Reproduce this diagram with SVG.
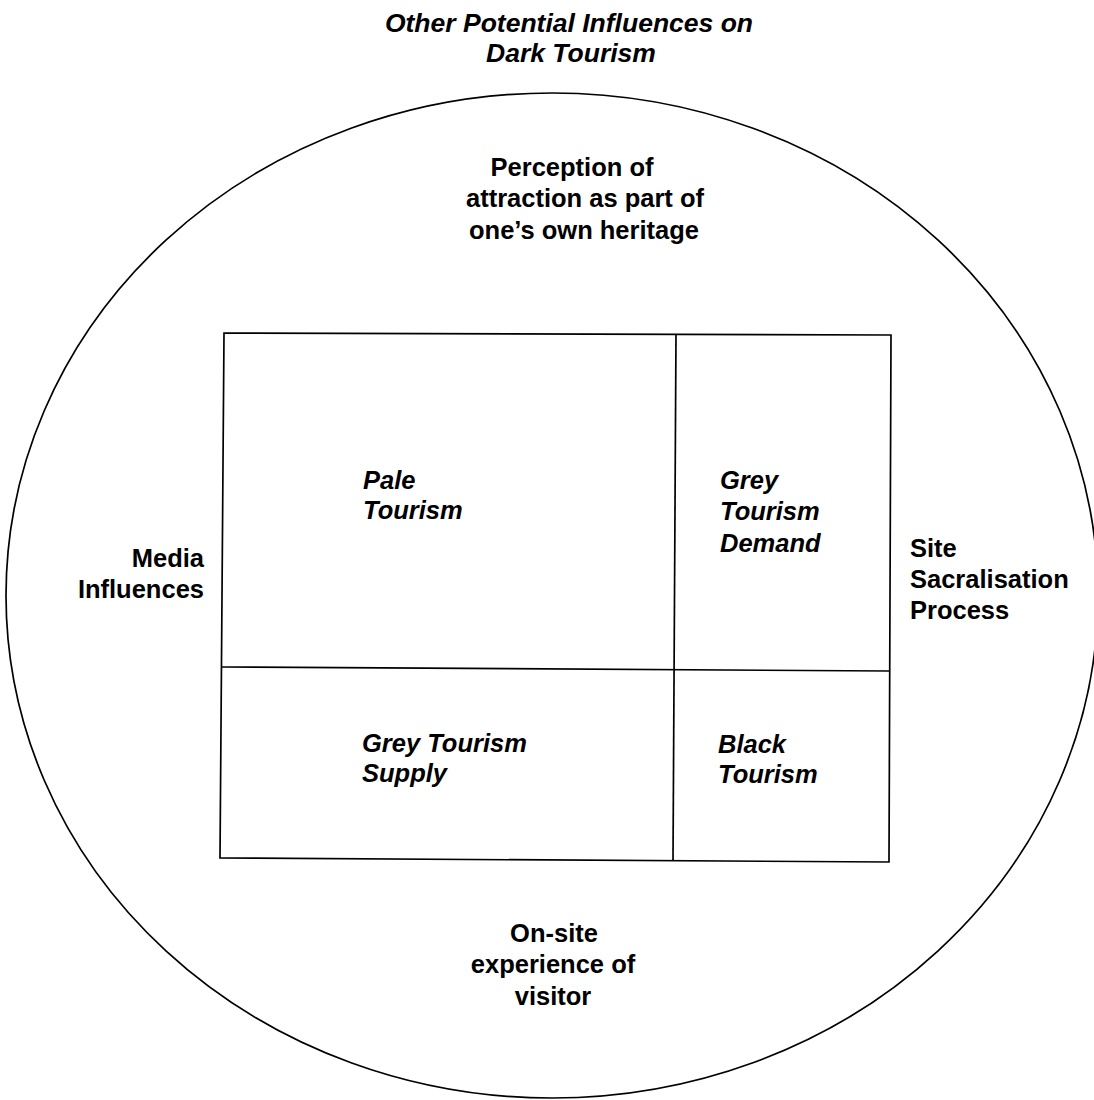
<svg xmlns="http://www.w3.org/2000/svg" width="1094" height="1100" viewBox="0 0 1094 1100">
<style>
.bg{fill:#fff}
.ln{fill:none;stroke:#000;stroke-width:1.7}
.lb{font-family:"Liberation Sans",Arial,sans-serif;font-weight:bold;font-size:25.5px;fill:#000}
.it{font-family:"Liberation Sans",Arial,sans-serif;font-weight:bold;font-style:italic;font-size:25.5px;fill:#000}
.tt{font-size:26.5px}
.c{text-anchor:middle}
.r{text-anchor:end}
</style>
<rect class="bg" x="0" y="0" width="1094" height="1100"/>
<g id="title">
<text class="it tt c" x="569" y="32">Other Potential Influences on</text>
<text class="it tt c" x="571" y="62">Dark Tourism</text>
</g>
<g id="outer-circle">
<ellipse class="ln" cx="552" cy="595.5" rx="546" ry="502.5"/>
</g>
<g id="heritage">
<text class="lb c" x="572" y="176">Perception of</text>
<text class="lb c" x="585" y="207">attraction as part of</text>
<text class="lb c" x="584" y="239">one’s own heritage</text>
</g>
<g id="media">
<text class="lb r" x="204" y="567">Media</text>
<text class="lb r" x="204" y="598">Influences</text>
</g>
<g id="sacralisation">
<text class="lb" x="910" y="557">Site</text>
<text class="lb" x="910" y="588">Sacralisation</text>
<text class="lb" x="910" y="619">Process</text>
</g>
<g id="onsite">
<text class="lb c" x="554" y="942">On-site</text>
<text class="lb c" x="553" y="973">experience of</text>
<text class="lb c" x="553" y="1005">visitor</text>
</g>
<g id="grid">
<polygon class="ln" points="224,333 891,335 889,862 220,858"/>
<line class="ln" x1="676" y1="334" x2="673" y2="860"/>
<line class="ln" x1="222" y1="667" x2="890" y2="671"/>
</g>
<g id="pale">
<text class="it" x="363" y="489">Pale</text>
<text class="it" x="363" y="519">Tourism</text>
</g>
<g id="grey-demand">
<text class="it" x="720" y="489">Grey</text>
<text class="it" x="720" y="520">Tourism</text>
<text class="it" x="720" y="552">Demand</text>
</g>
<g id="grey-supply">
<text class="it" x="362" y="752">Grey Tourism</text>
<text class="it" x="362" y="782">Supply</text>
</g>
<g id="black">
<text class="it" x="718" y="753">Black</text>
<text class="it" x="718" y="783">Tourism</text>
</g>
</svg>
